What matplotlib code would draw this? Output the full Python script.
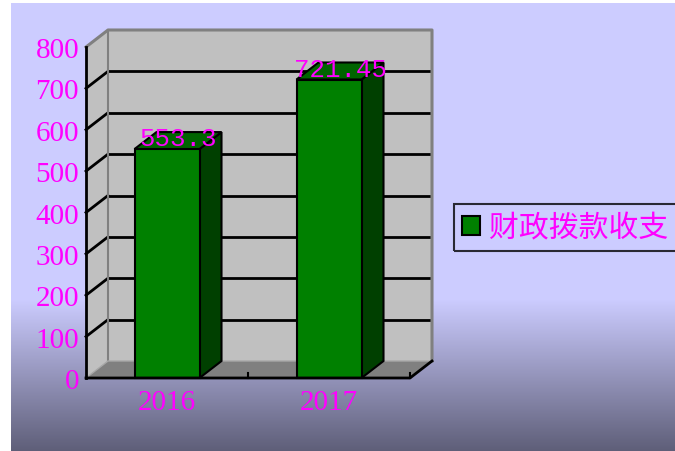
import numpy as np
import matplotlib
matplotlib.use("Agg")
import matplotlib.pyplot as plt
from matplotlib.patches import Polygon, Patch

# ---- data ----
categories = ["2016", "2017"]
values = [553.3, 721.45]
value_labels = ["553.3", "721.45"]
series_name = "财政拨款收支"
y_ticks = [0, 100, 200, 300, 400, 500, 600, 700, 800]

# ---- style ----
MAG = "#FF00FF"
W, H = 675, 452
fig = plt.figure(figsize=(W / 100, H / 100), dpi=100, facecolor="white")

# background gradient
bg = fig.add_axes([11 / W, 0, (W - 11) / W, (H - 4) / H])
bg.set_axis_off()
n = 448
rows = np.arange(n)  # 0 = top (pixel y=4)
top_c = np.array([0xCC, 0xCC, 0xFF]) / 255
bot_c = np.array([0x5E, 0x5E, 0x78]) / 255
t = np.clip((rows + 4 - 300) / (452 - 300), 0, 1)
grad = top_c[None, :] * (1 - t[:, None]) + bot_c[None, :] * t[:, None]
bg.imshow(grad[:, None, :], aspect="auto", extent=[0, 1, 0, 1])

# main axes: front plane
ax = fig.add_axes([86 / W, 73 / H, 324 / W, 331 / H])
ax.set_xlim(-0.5, 1.5)
ax.set_ylim(0, 800)
ax.patch.set_visible(False)
for s in ["top", "right", "bottom"]:
    ax.spines[s].set_visible(False)
ax.spines["left"].set_linewidth(2)
ax.spines["left"].set_zorder(6)

dx = 22 / 162.0
dy = 17 / (331 / 800.0)
x0, x1 = -0.5, 1.5
ymax = 800

wall = "#C0C0C0"
edge_gray = "#808080"

# back wall
ax.add_patch(Polygon([(x0 + dx, dy), (x1 + dx, dy), (x1 + dx, ymax + dy), (x0 + dx, ymax + dy)],
                     closed=True, facecolor=wall, edgecolor="none", zorder=1, clip_on=False))
# left wall
ax.add_patch(Polygon([(x0, 0), (x0 + dx, dy), (x0 + dx, ymax + dy), (x0, ymax)],
                     closed=True, facecolor=wall, edgecolor="none", zorder=1, clip_on=False))
# floor
ax.add_patch(Polygon([(x0, 0), (x1, 0), (x1 + dx, dy), (x0 + dx, dy)],
                     closed=True, facecolor="#808080", edgecolor="none", zorder=1.5, clip_on=False))

# grid lines
for v in y_ticks[1:-1]:
    ax.plot([x0 + dx, x1 + dx], [v + dy, v + dy], color="black", lw=2, zorder=2, clip_on=False,
            solid_capstyle="butt")
    ax.plot([x0, x0 + dx], [v, v + dy], color="black", lw=2, zorder=2, clip_on=False)
# top edges and back edges (gray)
ax.plot([x0, x0 + dx, x1 + dx, x1 + dx], [ymax, ymax + dy, ymax + dy, dy], color=edge_gray, lw=2.2,
        zorder=2.5, clip_on=False)
ax.plot([x0 + dx, x0 + dx], [dy, ymax + dy], color=edge_gray, lw=1.5, zorder=2.5, clip_on=False)
ax.plot([x0, x0 + dx, x1 + dx], [0, dy, dy], color="#A8A8A8", lw=1, zorder=2.5, clip_on=False)

# bars
bw = 65 / 162.0
xs = np.arange(len(categories))
side_c = "#004000"
top_c2 = "#006400"
for x, v in zip(xs, values):
    r = x + bw / 2
    l = x - bw / 2
    ax.add_patch(Polygon([(r, 0), (r + dx, dy), (r + dx, v + dy), (r, v)], closed=True,
                         facecolor=side_c, edgecolor="black", lw=1.5, zorder=3, clip_on=False))
    ax.add_patch(Polygon([(l, v), (l + dx, v + dy), (r + dx, v + dy), (r, v)], closed=True,
                         facecolor=top_c2, edgecolor="black", lw=1.5, zorder=3, clip_on=False))
ax.bar(xs, values, width=bw, color="#008000", edgecolor="black", linewidth=1.5, zorder=4, clip_on=False)

# front floor edge & right diagonal
ax.plot([x0, x1, x1 + dx], [0, 0, dy], color="black", lw=2, zorder=5, clip_on=False)
for tx in [0.5, 1.5]:
    ax.plot([tx, tx], [0, 12], color="black", lw=1.5, zorder=5, clip_on=False)

# value labels
for x, v, lab in zip(xs, values, value_labels):
    ax.text(x + dx / 2, v + 9, lab, ha="center", va="baseline", color=MAG,
            fontsize=18.5, family="Liberation Mono", zorder=7, clip_on=False)

# ticks
ax.set_yticks(y_ticks)
ax.set_yticklabels([str(v) for v in y_ticks], color=MAG, fontsize=21, family="Liberation Serif")
ax.tick_params(axis="y", direction="in", length=0, pad=5)
ax.set_xticks(xs)
ax.set_xticklabels(categories, color=MAG, fontsize=21, family="Liberation Serif")
ax.tick_params(axis="x", length=0, pad=8)

# legend
h = Patch(facecolor="#008000", edgecolor="black", linewidth=1.5)
leg = fig.legend([h], [series_name], loc="center left", bbox_to_anchor=(454 / W, 1 - 228.5 / H),
                 frameon=True, fancybox=False, edgecolor="black", facecolor="none",
                 prop={"family": ["Noto Sans CJK SC", "DejaVu Sans"], "size": 21.5},
                 handlelength=0.6, handleheight=0.6, handletextpad=0.3,
                 borderpad=0.28, borderaxespad=0, labelcolor=MAG)
leg.get_frame().set_linewidth(1.5)

fig.savefig("out.png", dpi=100, facecolor="white")
